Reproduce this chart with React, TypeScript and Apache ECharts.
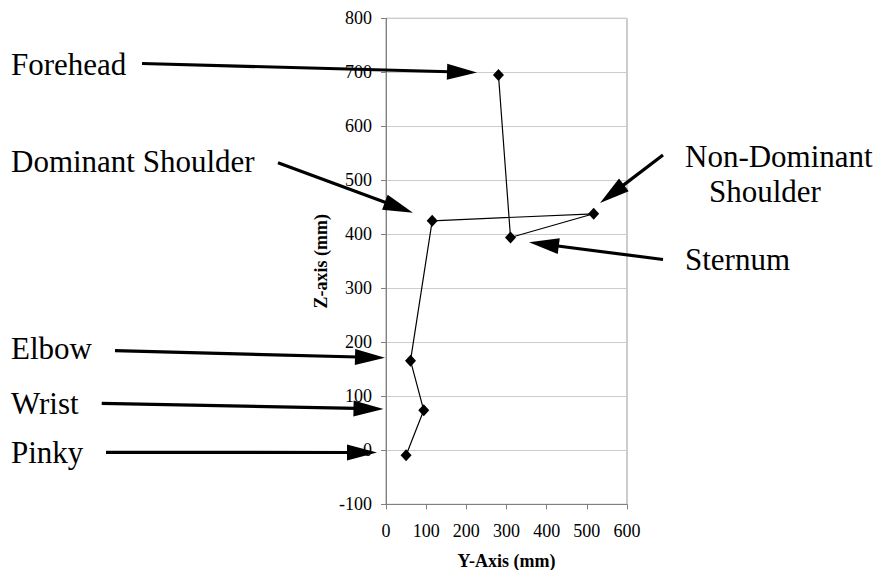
import React, { useEffect, useRef } from "react";
import * as echarts from "echarts";

// Marker positions (Y-axis mm, Z-axis mm), in drawing order of the line
const pointNames = ["Forehead", "Sternum", "Non-Dominant Shoulder", "Dominant Shoulder", "Elbow", "Wrist", "Pinky"];
const yValues = [280, 310, 517, 115, 61, 94, 50];
const zValues = [695, 394, 438, 425, 166, 74, -9];

const xTicks = { min: 0, max: 600, interval: 100 };
const yTicks = { min: -100, max: 800, interval: 100 };

// Annotation labels and their arrows (pixel positions on the page)
const labelTexts = ["Forehead", "Dominant Shoulder", "Non-Dominant", "Shoulder", "Sternum", "Elbow", "Wrist", "Pinky"];
const labelPos: [number, number][] = [
  [11, 64.5], [11, 161.2], [685, 156.2], [709, 191.2], [685, 259.5], [11, 348.5], [11, 403.5], [11, 452.2],
];
const arrows: [number, number, number, number][] = [
  [142, 63.5, 477, 72.5],
  [278, 162.7, 413, 212.7],
  [663, 155, 600, 203],
  [663, 259.5, 529, 242.3],
  [115, 350.7, 385, 357.7],
  [101.7, 403.3, 383.5, 409],
  [106, 452.3, 377, 452.5],
];

const SERIF = "Liberation Serif";

function arrowGraphics(a: [number, number, number, number]) {
  const [x1, y1, x2, y2] = a;
  const dx = x2 - x1, dy = y2 - y1;
  const len = Math.sqrt(dx * dx + dy * dy);
  const ux = dx / len, uy = dy / len;
  const nx = -uy, ny = ux;
  const L = 30, W = 8;
  const bx = x2 - ux * L, by = y2 - uy * L;
  return [
    {
      type: "line",
      shape: { x1, y1, x2: bx + ux * 3, y2: by + uy * 3 },
      style: { stroke: "#000", lineWidth: 3.2 },
      z: 100,
    },
    {
      type: "polygon",
      shape: { points: [[x2, y2], [bx + nx * W, by + ny * W], [bx - nx * W, by - ny * W]] },
      style: { fill: "#000" },
      z: 100,
    },
  ];
}

export default function App() {
  const ref = useRef<HTMLDivElement>(null);
  useEffect(() => {
    if (!ref.current) return;
    const chart = echarts.init(ref.current, null, { renderer: "svg" });
    const graphics: any[] = [];
    labelTexts.forEach((t, i) => {
      graphics.push({
        type: "text",
        x: labelPos[i][0],
        y: labelPos[i][1],
        style: {
          text: t,
          fill: "#000",
          fontFamily: SERIF,
          fontSize: 31,
          fontWeight: "normal",
          align: "left",
          verticalAlign: "middle",
        },
        z: 100,
      });
    });
    arrows.forEach((a) => graphics.push(...arrowGraphics(a)));

    chart.setOption({
      animation: false,
      backgroundColor: "#fff",
      textStyle: { fontFamily: SERIF },
      grid: {
        left: 386,
        right: 254,
        top: 18.3,
        bottom: 65.7,
        show: true,
        borderColor: "#999",
        borderWidth: 1,
        containLabel: false,
        outerBoundsMode: "none",
      },
      xAxis: {
        type: "value",
        min: xTicks.min,
        max: xTicks.max,
        interval: xTicks.interval,
        name: "Y-Axis (mm)",
        nameLocation: "middle",
        nameGap: 48,
        nameTextStyle: { fontFamily: SERIF, fontSize: 18, fontWeight: "bold", color: "#000" },
        axisLine: { show: true, onZero: false, lineStyle: { color: "#808080", width: 1 } },
        axisTick: { show: true, inside: false, length: 5, lineStyle: { color: "#808080" } },
        axisLabel: { fontFamily: SERIF, fontSize: 18, color: "#000", margin: 18 },
        splitLine: { show: false },
      },
      yAxis: {
        type: "value",
        min: yTicks.min,
        max: yTicks.max,
        interval: yTicks.interval,
        name: "Z-axis (mm)",
        nameLocation: "middle",
        nameGap: 56,
        nameTextStyle: { fontFamily: SERIF, fontSize: 18, fontWeight: "bold", color: "#000" },
        axisLine: { show: true, onZero: false, lineStyle: { color: "#808080", width: 1 } },
        axisTick: { show: true, inside: false, length: 5, lineStyle: { color: "#808080" } },
        axisLabel: { fontFamily: SERIF, fontSize: 18, color: "#000", margin: 14 },
        splitLine: { show: true, lineStyle: { color: "#cccccc", width: 1 } },
      },
      series: [
        {
          type: "line",
          name: "Markers",
          data: yValues.map((y, i) => ({ value: [y, zValues[i]], name: pointNames[i] })),
          symbol: "diamond",
          symbolSize: [11, 12],
          showAllSymbol: true,
          itemStyle: { color: "#000" },
          lineStyle: { color: "#000", width: 1.2 },
          label: { show: false },
        },
      ],
      graphic: graphics,
    });
    return () => chart.dispose();
  }, []);
  return (
    <div
      ref={ref}
      style={{ position: "fixed", left: 0, top: 0, width: 881, height: 570, background: "#fff" }}
    />
  );
}
